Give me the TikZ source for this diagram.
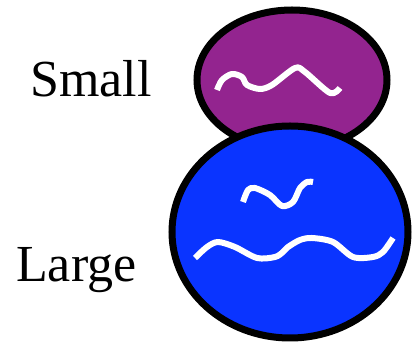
\documentclass[tikz,border=0pt]{standalone}
\usepackage{fontspec}
\setmainfont{Liberation Serif}
\usepackage{tikz}
\usepackage{xcolor}
\definecolor{smallfill}{RGB}{147,36,143}
\definecolor{largefill}{RGB}{10,52,255}

\begin{document}
\begin{tikzpicture}[x=1pt, y=-1pt,
  blob/.style={line width=7pt, draw=black},
  wave/.style={line width=6pt, white, line join=round}]
\useasboundingbox (0,0) rectangle (413,344);

% small one
\draw[blob, fill=smallfill] (292,80) ellipse [x radius=95, y radius=70];
\draw[wave] plot[smooth, tension=0.5] coordinates {(217,90) (222,80) (232,74) (242,77) (247,85) (260,89) (272,85) (295,68) (305,72) (330,93) (340,88)};

% large one
\draw[blob, fill=largefill] (290,232) ellipse [x radius=118, y radius=106];
\draw[wave] plot[smooth, tension=0.5] coordinates {(243,202) (248,190) (255,188) (270,195) (282,206) (293,202) (300,188) (307,182) (313,182)};
\draw[wave] plot[smooth, tension=0.5] coordinates {(195,258) (207,247) (218,242) (235,247) (257,258) (275,257) (283,252) (288,247) (300,240) (312,238) (333,242) (353,257) (373,257) (383,252) (393,238)};

% labels
\node[anchor=base west, inner sep=0pt, font=\fontsize{52}{56}\selectfont] (small) at (30,97) {Small};
\node[anchor=base west, inner sep=0pt, font=\fontsize{52}{56}\selectfont] (large) at (16,282) {Large};
\end{tikzpicture}
\end{document}
